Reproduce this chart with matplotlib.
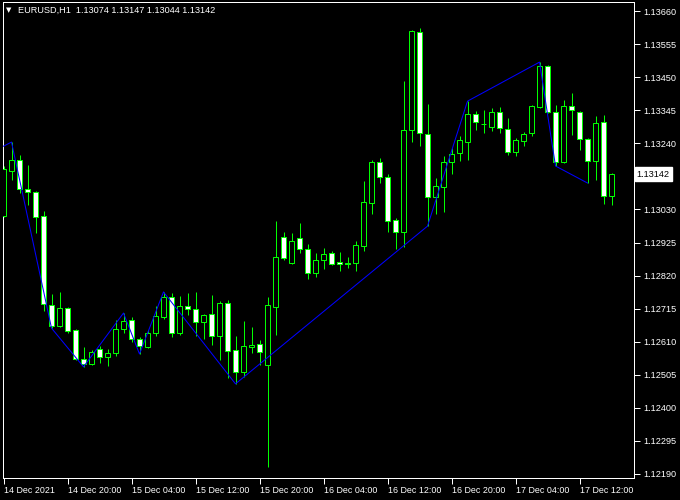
import matplotlib
matplotlib.use("Agg")
import matplotlib.pyplot as plt
import numpy as np

plt.rcParams["font.family"] = ["Liberation Sans", "DejaVu Sans"]

symbol_title = "EURUSD,H1  1.13074 1.13147 1.13044 1.13142"

opens = [1.13009, 1.13152, 1.13187, 1.13096, 1.13085, 1.13009, 1.12727, 1.12660, 1.12717, 1.12647,
         1.12555, 1.12539, 1.12587, 1.12561, 1.12574, 1.12650, 1.12679, 1.12619, 1.12593, 1.12638,
         1.12688, 1.12752, 1.12638, 1.12723, 1.12714, 1.12673, 1.12698, 1.12628, 1.12733, 1.12584,
         1.12514, 1.12593, 1.12603, 1.12536, 1.12720, 1.12942, 1.12860, 1.12939, 1.12904, 1.12828,
         1.12869, 1.12892, 1.12863, 1.12861, 1.12860, 1.12914, 1.13050, 1.13181, 1.13133, 1.12996,
         1.12958, 1.13282, 1.13593, 1.13269, 1.13069, 1.13101, 1.13181, 1.13209, 1.13244, 1.13333,
         1.13303, 1.13292, 1.13339, 1.13285, 1.13212, 1.13247, 1.13273, 1.13355, 1.13485, 1.13339,
         1.13181, 1.13358, 1.13339, 1.13254, 1.13184, 1.13308, 1.13074]
highs = [1.13168, 1.13244, 1.13203, 1.13171, 1.13088, 1.13025, 1.12761, 1.12768, 1.12720, 1.12650,
         1.12593, 1.12584, 1.12596, 1.12587, 1.12679, 1.12701, 1.12688, 1.12625, 1.12647, 1.12723,
         1.12768, 1.12765, 1.12755, 1.12766, 1.12768, 1.12698, 1.12758, 1.12739, 1.12742, 1.12628,
         1.12676, 1.12657, 1.12615, 1.12752, 1.12993, 1.12958, 1.12955, 1.12987, 1.12920, 1.12892,
         1.12908, 1.12898, 1.12895, 1.12879, 1.12930, 1.13120, 1.13187, 1.13193, 1.13142, 1.13003,
         1.13438, 1.13600, 1.13606, 1.13365, 1.13130, 1.13200, 1.13225, 1.13263, 1.13374, 1.13342,
         1.13346, 1.13352, 1.13355, 1.13320, 1.13257, 1.13276, 1.13362, 1.13498, 1.13489, 1.13362,
         1.13377, 1.13400, 1.13342, 1.13256, 1.13327, 1.13330, 1.13147]
lows = [1.13006, 1.13123, 1.13082, 1.13044, 1.12955, 1.12707, 1.12653, 1.12658, 1.12638, 1.12552,
        1.12530, 1.12536, 1.12542, 1.12533, 1.12565, 1.12638, 1.12609, 1.12571, 1.12591, 1.12628,
        1.12682, 1.12625, 1.12631, 1.12695, 1.12628, 1.12619, 1.12600, 1.12552, 1.12495, 1.12476,
        1.12498, 1.12574, 1.12536, 1.12212, 1.12631, 1.12869, 1.12856, 1.12892, 1.12809, 1.12815,
        1.12841, 1.12854, 1.12834, 1.12844, 1.12834, 1.12898, 1.13015, 1.13114, 1.12958, 1.12904,
        1.12911, 1.13244, 1.13231, 1.12977, 1.13015, 1.13022, 1.13142, 1.13184, 1.13187, 1.13282,
        1.13273, 1.13279, 1.13273, 1.13203, 1.13200, 1.13231, 1.13263, 1.13353, 1.13336, 1.13168,
        1.13177, 1.13266, 1.13219, 1.13114, 1.13123, 1.13047, 1.13044]
closes = [1.13158, 1.13187, 1.13095, 1.13084, 1.13006, 1.12730, 1.12660, 1.12717, 1.12644, 1.12555,
          1.12539, 1.12577, 1.12561, 1.12574, 1.12650, 1.12676, 1.12619, 1.12596, 1.12638, 1.12692,
          1.12752, 1.12638, 1.12723, 1.12714, 1.12673, 1.12696, 1.12628, 1.12733, 1.12580, 1.12514,
          1.12596, 1.12600, 1.12577, 1.12727, 1.12879, 1.12876, 1.12930, 1.12904, 1.12828, 1.12869,
          1.12888, 1.12856, 1.12856, 1.12856, 1.12917, 1.13054, 1.13181, 1.13133, 1.12993, 1.12958,
          1.13282, 1.13596, 1.13273, 1.13069, 1.13104, 1.13181, 1.13206, 1.13250, 1.13333, 1.13308,
          1.13301, 1.13339, 1.13289, 1.13212, 1.13250, 1.13269, 1.13358, 1.13485, 1.13339, 1.13181,
          1.13358, 1.13346, 1.13254, 1.13184, 1.13304, 1.13073, 1.13142]

zigzag_bars = [0, 1, 6, 10, 15, 17, 20, 29, 53, 58, 67, 69, 73]
zigzag_prices = [1.13231, 1.13244, 1.12653, 1.12530, 1.12701, 1.12571, 1.12768, 1.12476,
                 1.12977, 1.13374, 1.13498, 1.13168, 1.13114]

price_ticks = [1.13660, 1.13555, 1.13450, 1.13345, 1.13240, 1.13030, 1.12925, 1.12820,
               1.12715, 1.12610, 1.12505, 1.12400, 1.12295, 1.12190]
current_price = 1.13142

time_tick_bars = [0, 8, 16, 24, 32, 40, 48, 56, 64, 72]
time_tick_labels = ["14 Dec 2021", "14 Dec 20:00", "15 Dec 04:00", "15 Dec 12:00", "15 Dec 20:00",
                    "16 Dec 04:00", "16 Dec 12:00", "16 Dec 20:00", "17 Dec 04:00", "17 Dec 12:00"]

GREEN = "#00FF00"
LW = 0.72  # one pixel at 100 dpi
fig = plt.figure(figsize=(6.8, 5.0), dpi=100, facecolor="black")
ax = fig.add_axes([3/680, 1 - 478/500, (634 - 3)/680, (478 - 2)/500])
ax.set_facecolor("black")

o = np.array(opens); h = np.array(highs); l = np.array(lows); c = np.array(closes)
x = np.arange(len(o))

ax.vlines(x, l, h, color=GREEN, linewidth=LW, zorder=2)
bull = c >= o
bottoms = np.minimum(o, c)
heights = np.maximum(np.abs(c - o), 1e-7)
faces = np.where(bull, "black", "white")
ax.bar(x, heights, bottom=bottoms, width=0.625, color=list(faces), edgecolor=GREEN,
       linewidth=LW, zorder=3)

ax.plot(zigzag_bars, zigzag_prices, color="#0000FF", linewidth=0.75, zorder=4)

ax.set_xlim(-0.0625, 78.8125)
ax.set_ylim(1.12177, 1.13689)

for s in ax.spines.values():
    s.set_color("white")
    s.set_linewidth(LW)

ax.yaxis.tick_right()
ax.set_yticks(price_ticks)
ax.set_yticklabels([f"{p:.5f}" for p in price_ticks])
ax.tick_params(axis="y", colors="white", labelcolor="white", labelsize=6.6, length=4,
               width=LW, pad=2.5, direction="out")
ax.set_xticks(time_tick_bars)
ax.set_xticklabels(time_tick_labels, ha="left")
ax.tick_params(axis="x", colors="white", labelcolor="white", labelsize=6.4, length=4,
               width=LW, pad=1.5, direction="out")

ax.text(1.0045, current_price, f"{current_price:.5f}", transform=ax.get_yaxis_transform(),
        ha="left", va="center", fontsize=6.6, color="black",
        bbox=dict(boxstyle="square,pad=0.25", facecolor="white", edgecolor="white"))

fig.text(6/680, 1 - 10/500, "\u25BC", color="white", fontsize=5, ha="left", va="center",
         family="DejaVu Sans")
fig.text(18/680, 1 - 10/500, symbol_title, color="white", fontsize=6.6, ha="left", va="center")

fig.savefig("out.png", dpi=100, facecolor="black")
